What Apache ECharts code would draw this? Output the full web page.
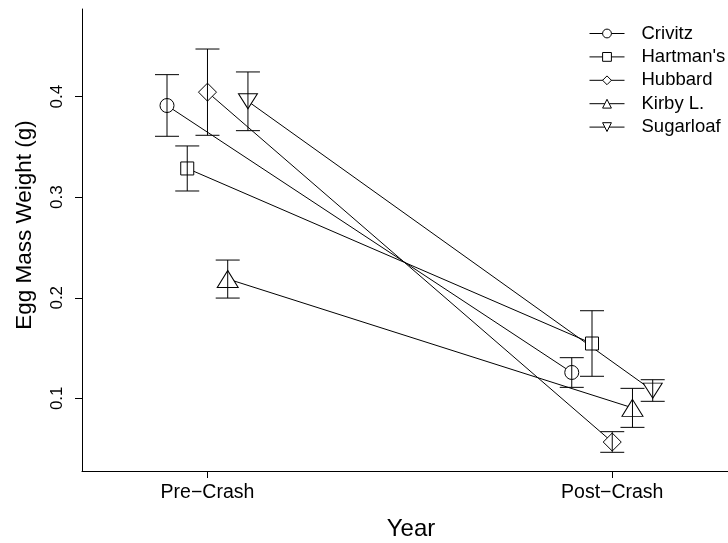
<!DOCTYPE html>
<html>
<head>
<meta charset="utf-8">
<script src="https://cdn.jsdelivr.net/npm/echarts@6/dist/echarts.min.js"></script>
<style>
  html, body { margin: 0; padding: 0; background: #fff; }
  #chart { width: 728px; height: 543px; }
</style>
</head>
<body>
<div id="chart"></div>
<script>
// data
var periods = ['Pre\u2212Crash', 'Post\u2212Crash'];
var sites = ['Crivitz', "Hartman's", 'Hubbard', 'Kirby L.', 'Sugarloaf'];
var preMean  = [0.3912, 0.3286, 0.4045, 0.2187, 0.3954];
var preLow   = [0.3606, 0.3062, 0.3616, 0.1997, 0.3662];
var preHigh  = [0.4219, 0.3510, 0.4474, 0.2375, 0.4246];
var postMean = [0.1257, 0.1545, 0.0565, 0.0905, 0.1076];
var postLow  = [0.1109, 0.1219, 0.0463, 0.0711, 0.0970];
var postHigh = [0.1404, 0.1871, 0.0668, 0.1099, 0.1185];
var yTicks = [0.1, 0.2, 0.3, 0.4];

// marker per site, and horizontal dodge so the bars don't overlap
var symbols = ['circle', 'rect', 'diamond', 'triangle', 'triangle'];
var symbolSizes = [14, 13, 18, [21, 17], [19, 15]];
var symbolRotates = [0, 0, 0, 0, 180];
var dodge = 0.05;
var font = 'Liberation Sans, Arial, sans-serif';

var chart = echarts.init(document.getElementById('chart'));

var lineSeries = sites.map(function (name, i) {
    var off = (i - 2) * dodge;
    return {
        name: name,
        type: 'line',
        data: [[1 + off, preMean[i]], [2 + off, postMean[i]]],
        symbol: symbols[i],
        symbolSize: symbolSizes[i],
        symbolRotate: symbolRotates[i],
        showAllSymbol: true,
        lineStyle: { color: '#000', width: 1 },
        itemStyle: { color: '#fff', borderColor: '#000', borderWidth: 1 },
        emphasis: { disabled: true },
        z: 2
    };
});

var errData = [];
sites.forEach(function (name, i) {
    var off = (i - 2) * dodge;
    errData.push([1 + off, preLow[i], preHigh[i]]);
    errData.push([2 + off, postLow[i], postHigh[i]]);
});

function errBar(params, api) {
    var x = api.value(0);
    var top = api.coord([x, api.value(2)]);
    var bot = api.coord([x, api.value(1)]);
    var w = 12;
    var st = { stroke: '#000', lineWidth: 1 };
    return {
        type: 'group',
        children: [
            { type: 'line', shape: { x1: top[0], y1: top[1], x2: bot[0], y2: bot[1] }, style: st },
            { type: 'line', shape: { x1: top[0] - w, y1: top[1], x2: top[0] + w, y2: top[1] }, style: st },
            { type: 'line', shape: { x1: bot[0] - w, y1: bot[1], x2: bot[0] + w, y2: bot[1] }, style: st }
        ]
    };
}

chart.setOption({
    animation: false,
    textStyle: { fontFamily: font, color: '#000' },
    grid: { left: 82, right: 0, top: 9, bottom: 72, outerBoundsMode: 'none' },
    legend: {
        data: sites,
        orient: 'vertical',
        left: 589,
        top: 24,
        padding: 0,
        itemWidth: 35,
        itemHeight: 11,
        itemGap: 4.4,
        selectedMode: false,
        lineStyle: { color: '#000', width: 1 },
        itemStyle: { color: '#fff', borderColor: '#000', borderWidth: 1 },
        textStyle: { fontFamily: font, fontSize: 18.5, color: '#000', padding: [0, 0, 0, 12] }
    },
    xAxis: {
        type: 'value',
        min: 0.69,
        max: 2.286,
        name: 'Year',
        nameLocation: 'middle',
        nameGap: 46,
        nameTextStyle: { fontFamily: font, fontSize: 24, color: '#000', padding: [0, 0, 0, 12] },
        axisLine: { show: true, lineStyle: { color: '#000', width: 1 } },
        axisTick: { show: true, length: 7, customValues: [1, 2], lineStyle: { color: '#000' } },
        axisLabel: {
            customValues: [1, 2],
            margin: 12,
            fontSize: 19.5,
            color: '#000',
            formatter: function (v) { return periods[Math.round(v) - 1]; }
        },
        splitLine: { show: false }
    },
    yAxis: {
        type: 'value',
        min: 0.0277,
        max: 0.4872,
        name: 'Egg Mass Weight (g)',
        nameLocation: 'middle',
        nameGap: 46,
        nameTextStyle: { fontFamily: font, fontSize: 22.5, color: '#000', padding: [0, 0, 0, 30] },
        axisLine: { show: true, lineStyle: { color: '#000', width: 1 } },
        axisTick: { show: true, length: 7, customValues: yTicks, lineStyle: { color: '#000' } },
        axisLabel: {
            customValues: yTicks,
            rotate: 90,
            margin: 16,
            fontSize: 17,
            color: '#000',
            formatter: function (v) { return v.toFixed(1); }
        },
        splitLine: { show: false }
    },
    series: lineSeries.concat([{
        type: 'custom',
        renderItem: errBar,
        data: errData,
        z: 3,
        silent: true
    }])
});
</script>
</body>
</html>
